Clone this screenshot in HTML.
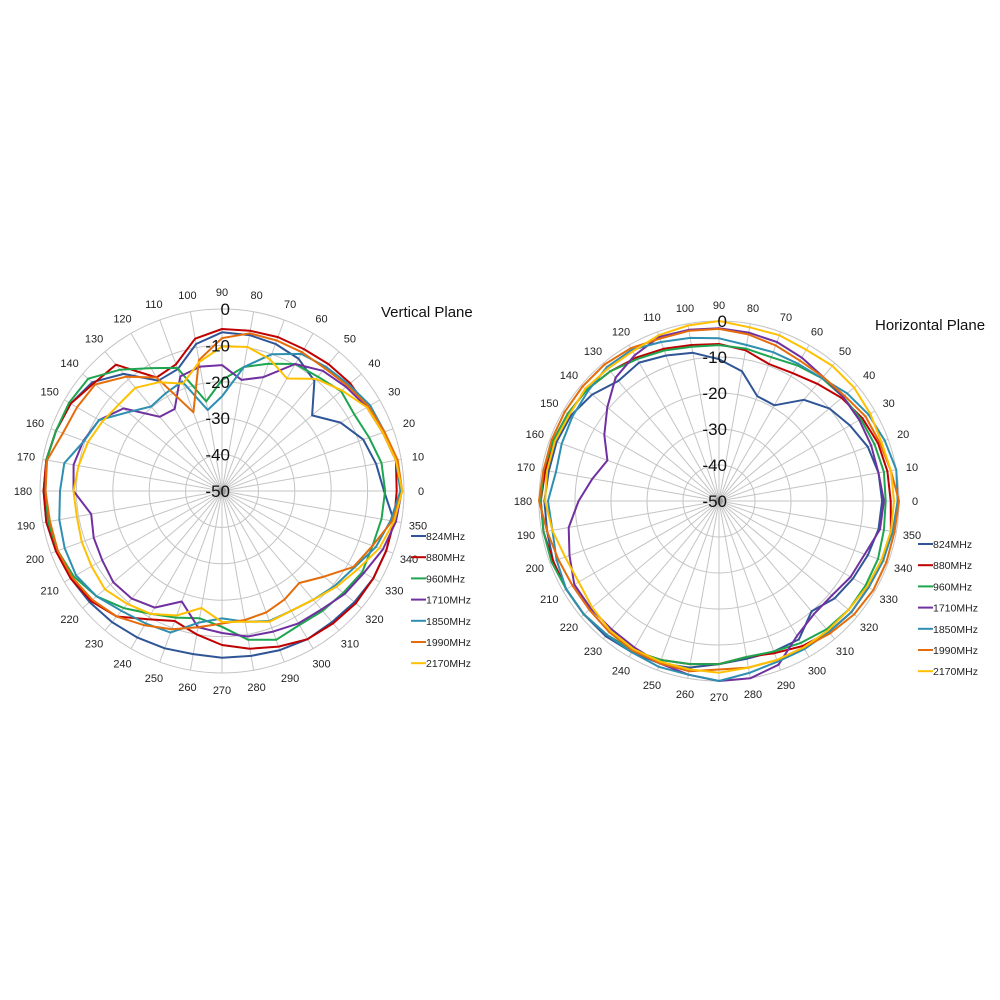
<!DOCTYPE html>
<html><head><meta charset="utf-8"><style>
html,body{margin:0;padding:0;background:#fff;}
svg{display:block;font-family:"Liberation Sans",sans-serif;}
</style></head><body>
<svg id="s" width="1000" height="1000" xmlns="http://www.w3.org/2000/svg"></svg>
<script>
const colors=["#2f5597","#c00000","#1ea550","#7030a0","#2e8fb0","#e46c0a","#ffc000"];
const names=["824MHz","880MHz","960MHz","1710MHz","1850MHz","1990MHz","2170MHz"];
const L=[
[-5.5,-7,-8.7,-12.4,-17.7,-10.5,-8,-7,-6.5,-6.4,-9,-14.4,-15,-8,-3.5,-2,-1.5,-1,-1,-1,-1.5,-2,-2.5,-3,-3.5,-4,-4.5,-4.2,-4,-3.5,-3,-3,-2.5,-2,-2,-2],
[-2,-1.5,-3,-4,-4,-4.5,-5,-5,-5.3,-5.5,-7.5,-13,-14,-4.7,-4,-2,-1.5,-1,-1,-1,-1.5,-2,-3,-5,-9.3,-12,-10,-7.7,-6,-4.5,-3,-2.5,-2,-2,-2,-2],
[-5.2,-5.5,-7,-8,-7.3,-9,-9.7,-12.8,-15.4,-19.5,-25,-14,-11,-6.5,-2,-1.5,-1.5,-1,-1.5,-1.5,-2,-3,-5,-8,-11,-13,-14.5,-12.7,-8.5,-6.5,-7.5,-7,-6.5,-5.5,-6,-5.5],
[-0.6,-1.5,-3,-4,-5.5,-6.9,-9.7,-16.7,-19,-15.4,-15.3,-16.5,-24,-23.4,-14.7,-11,-9.5,-8.6,-9.2,-13.5,-12.5,-12,-11,-11.4,-13,-17.7,-12,-11,-9.4,-8.9,-8,-7.5,-6,-5,-3,-1.5],
[-1,-1.5,-2.5,-3,-4.5,-5.5,-6.5,-10,-15.4,-24,-27.4,-18,-19,-19.7,-16.3,-11,-9.7,-6,-5.5,-4.6,-4,-3.7,-5,-7,-8,-8.6,-13.3,-15,-13.5,-12,-12,-11,-9.5,-8,-5,-3],
[-0.5,-1,-2.5,-3.5,-5,-6,-6,-6,-6,-8,-13.5,-27,-14,-9,-4.5,-4,-3.5,-1.2,-1.5,-2,-2,-2.5,-3.5,-5,-7.4,-9.6,-12,-13.6,-14,-14.5,-15.6,-17,-13.4,-8.3,-6,-2.5],
[-0.5,-1.5,-3,-4,-7,-9.8,-14.3,-11.5,-9.8,-10.3,-14,-18.6,-15.5,-13,-13,-12,-10.8,-10,-9.2,-9.5,-9,-8.6,-8,-9.5,-11,-13.6,-17.4,-14,-13.5,-11.8,-12,-11,-9,-7,-4,-2]];
const R=[
[-4.7,-5,-6,-8,-10,-13.3,-19.3,-19,-13.4,-10.6,-8.2,-7,-5.6,-6.5,-4,-2.5,-2,-2,-1.5,-1.5,-1,-1,-1,-1,-1.5,-2,-3,-4.7,-5.5,-5.5,-5.6,-10,-8,-7,-6,-5],
[-2.3,-2.5,-3,-4,-5.5,-7.5,-9,-9.5,-7.5,-6.4,-6,-5,-4,-3,-2,-1.5,-1,-1,-0.5,-0.5,-1,-1,-1,-1.5,-2,-3,-4,-4.7,-6,-5,-3.5,-2.5,-2,-2,-1.5,-1.5],
[-3.7,-3.5,-4,-4.5,-5,-5.5,-6.5,-7.5,-7,-6.7,-6.5,-5.5,-4.5,-3,-2,-1.5,-1,-0.5,-0.5,-0.5,-0.5,-1,-1,-1.5,-2,-3,-4,-4.7,-6,-5.5,-4.5,-3.5,-3,-3,-3,-3.5],
[-4.2,-5,-5,-5,-5,-5,-4,-3,-2.5,-2,-1.7,-1.5,-3.2,-5.3,-9.5,-13.2,-17,-14.3,-11,-7.6,-5.8,-3.6,-3.5,-3.5,-3,-2,-1,0,0,-1.6,-6.7,-9,-9.1,-7.8,-6.9,-4.6],
[-0.4,0,-1,-2,-3.5,-5.5,-6,-6,-6,-4.8,-4,-3,-1.5,-1.5,-2.5,-3,-3.5,-4,-2.5,-3,-2,-1,-1,-1.5,-1.5,-1,-1,0,-1.5,-2.5,-2.5,-2.5,-2,-2,-1.5,-1],
[0,-1.5,-2.5,-3,-4.5,-5,-5,-4,-3,-2.2,-2,-2,-1,-0.5,-0.5,-0.5,-0.5,-0.5,0,-1.5,-2.5,-3,-3,-2.5,-2,-2,-2,-3.2,-3,-3,-3,-2,-1,-0.5,-0.5,-0.5],
[-1.4,-1.5,-2,-1.5,-1,-1,-1.5,-1,-1,0,-0.5,-1,-2,-2,-1.5,-2,-1.5,-1.5,-1.7,-3,-4.5,-5,-4,-3,-2.5,-2.5,-2.5,-2.3,-3,-3,-3,-3,-3,-2.5,-2,-1.5]];
let o="";
function chart(cx,cy,Rr,labR,data,title,tx,ty,lx,ly){
  const s=Rr/50;
  for(let i=1;i<=5;i++)o+=`<circle cx="${cx}" cy="${cy}" r="${(i*10*s).toFixed(1)}" fill="none" stroke="#c4c4c4" stroke-width="1"/>`;
  for(let a=0;a<360;a+=10){const t=a*Math.PI/180;o+=`<line x1="${cx}" y1="${cy}" x2="${(cx+Rr*Math.cos(t)).toFixed(1)}" y2="${(cy-Rr*Math.sin(t)).toFixed(1)}" stroke="#c4c4c4" stroke-width="1"/>`;
    o+=`<text x="${(cx+labR*Math.cos(t)).toFixed(1)}" y="${(cy-labR*Math.sin(t)+4).toFixed(1)}" font-size="11" text-anchor="middle" fill="#222">${a}</text>`;}
  o+=`<circle cx="${cx}" cy="${cy}" r="4" fill="#999"/>`;
  data.forEach((d,k)=>{let p=d.map((v,i)=>{const t=i*10*Math.PI/180,r=(v+50)*s;return (cx+r*Math.cos(t)).toFixed(1)+","+(cy-r*Math.sin(t)).toFixed(1)}).join(" ");
    o+=`<polygon points="${p}" fill="none" stroke="${colors[k]}" stroke-width="2" stroke-linejoin="round"/>`;});
  for(let i=0;i<=5;i++){o+=`<text x="${cx+8}" y="${(cy-(50-i*10)*s+6).toFixed(1)}" font-size="17" text-anchor="end" fill="#111">${i==0?0:-i*10}</text>`;}
  o+=`<text x="${tx}" y="${ty}" font-size="15" fill="#111">${title}</text>`;
  names.forEach((n,k)=>{const y=ly+k*21.2;o+=`<line x1="${lx}" y1="${y}" x2="${lx+15}" y2="${y}" stroke="${colors[k]}" stroke-width="2"/><text x="${lx+15}" y="${y+4}" font-size="10.5" fill="#222">${n}</text>`;});
}
chart(222,491,182,199,L,"Vertical Plane",381,317,411,536);
chart(719,501,180,196,R,"Horizontal Plane",875,330,918,544);
document.getElementById("s").innerHTML=o;
</script>
</body></html>
